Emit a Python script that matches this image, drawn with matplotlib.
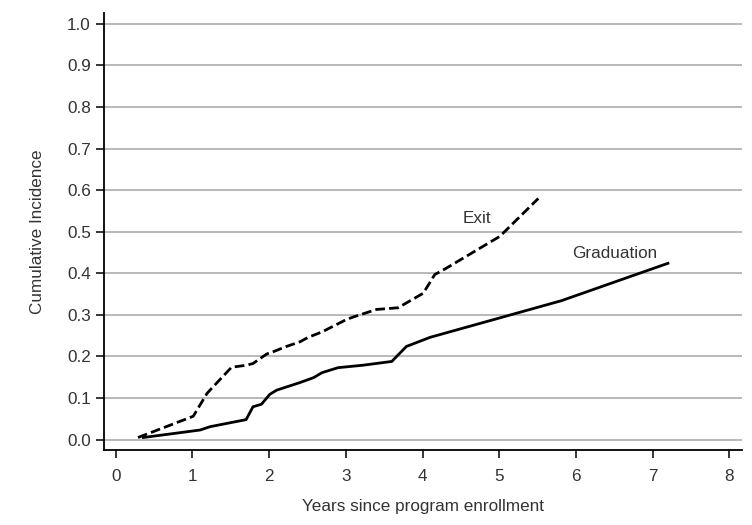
import matplotlib
matplotlib.use("Agg")
import matplotlib.pyplot as plt

plt.rcParams['font.family'] = ['Liberation Sans', 'DejaVu Sans']

exit_years = [0.29, 1.01, 1.19, 1.27, 1.51, 1.71, 1.79, 1.97, 2.05, 2.21, 2.40, 2.51, 2.69,
              3.01, 3.10, 3.40, 3.68, 4.01, 4.16, 4.29, 5.01, 5.51]
exit_inc = [0.005, 0.056, 0.111, 0.127, 0.174, 0.179, 0.183, 0.206, 0.211, 0.223, 0.235, 0.246, 0.259,
            0.289, 0.295, 0.313, 0.317, 0.352, 0.397, 0.41, 0.489, 0.58]

grad_years = [0.36, 1.10, 1.23, 1.70, 1.79, 1.90, 2.01, 2.10, 2.40, 2.58, 2.69, 2.90, 3.23,
              3.60, 3.79, 4.10, 5.81, 7.20]
grad_inc = [0.005, 0.023, 0.031, 0.048, 0.079, 0.085, 0.109, 0.119, 0.137, 0.149, 0.161, 0.173, 0.179,
            0.188, 0.224, 0.246, 0.334, 0.424]

x_ticks = [0, 1, 2, 3, 4, 5, 6, 7, 8]
y_ticks = [0.0, 0.1, 0.2, 0.3, 0.4, 0.5, 0.6, 0.7, 0.8, 0.9, 1.0]

text_col = '#333333'
fs = 12.3

fig = plt.figure(figsize=(7.52, 5.25), dpi=100)
ax = fig.add_axes([0.1383, 0.1429, 0.8484, 0.8323])

for y in y_ticks:
    ax.axhline(y, color='#a6a6a6', lw=1.1, zorder=1)

ax.plot(grad_years, grad_inc, color='black', lw=2.0, zorder=3)
ln, = ax.plot(exit_years, exit_inc, color='black', lw=2.0, zorder=3)
ln.set_dashes([3.5, 1.5])

ax.text(4.71, 0.532, 'Exit', fontsize=fs, color=text_col, ha='center', va='center')
ax.text(6.51, 0.448, 'Graduation', fontsize=fs, color=text_col, ha='center', va='center')

ax.set_xlim(-0.153, 8.166)
ax.set_ylim(-0.025, 1.026)
ax.set_xticks(x_ticks)
ax.set_xticklabels([str(v) for v in x_ticks])
ax.set_yticks(y_ticks)
ax.set_yticklabels([f'{v:.1f}' for v in y_ticks])

for s in ['top', 'right']:
    ax.spines[s].set_visible(False)
for s in ['left', 'bottom']:
    ax.spines[s].set_linewidth(1.3)
    ax.spines[s].set_color('black')

ax.tick_params(axis='both', direction='out', length=6, width=1.1, color='black',
               labelsize=fs, labelcolor=text_col)
ax.tick_params(axis='x', pad=7.5)
ax.tick_params(axis='y', pad=3.5)

ax.set_xlabel('Years since program enrollment', fontsize=fs, color=text_col, labelpad=11)
ax.set_ylabel('Cumulative Incidence', fontsize=fs, color=text_col, labelpad=16)

fig.savefig('out.png', dpi=100)
